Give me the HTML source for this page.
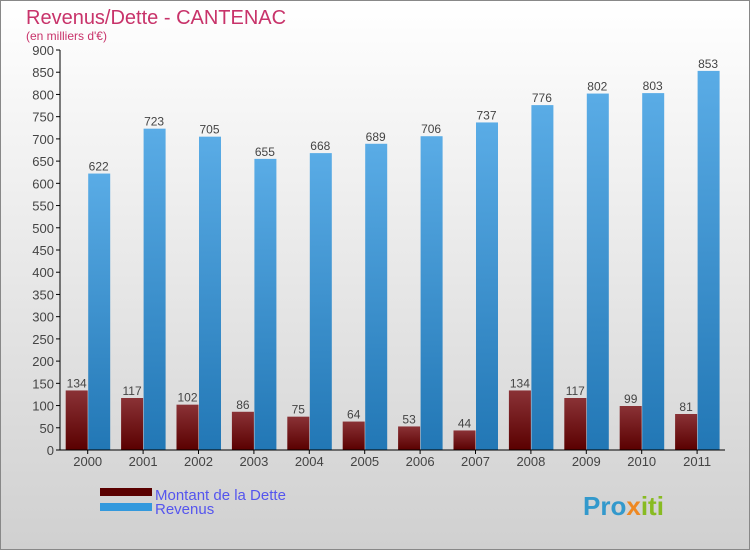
<!DOCTYPE html>
<html><head><meta charset="utf-8"><style>
body{margin:0}
svg{display:block;font-family:"Liberation Sans",sans-serif}
</style></head><body>
<svg id="c" width="750" height="550" xmlns="http://www.w3.org/2000/svg">
<defs>
<linearGradient id="bg" x1="0" y1="0" x2="0" y2="1"><stop offset="0" stop-color="#ffffff"/><stop offset="1" stop-color="#d0d0d0"/></linearGradient>
<linearGradient id="gd" x1="0" y1="0" x2="0" y2="1"><stop offset="0" stop-color="#8a3236"/><stop offset="1" stop-color="#5a0000"/></linearGradient>
<linearGradient id="gr" x1="0" y1="0" x2="0" y2="1"><stop offset="0" stop-color="#5aace6"/><stop offset="1" stop-color="#2277b5"/></linearGradient>
</defs>
<rect x="0.5" y="0.5" width="749" height="549" fill="url(#bg)" stroke="#888"/>
<text x="26" y="24" font-size="20" fill="#c8336a">Revenus/Dette - CANTENAC</text>
<text x="26" y="40" font-size="12" fill="#c8336a">(en milliers d'€)</text>
<g id="plot"></g>
<rect x="100" y="488" width="52" height="8" fill="#5a0000"/>
<rect x="100" y="503" width="52" height="8" fill="#3399dd"/>
<text x="155" y="500" font-size="15" fill="#5555ee">Montant de la Dette</text>
<text x="155" y="514" font-size="15" fill="#5555ee">Revenus</text>
<text x="583" y="515" font-size="26" font-weight="bold" fill="#3399cc">Pro<tspan fill="#ee8822">x</tspan><tspan fill="#88bb22">iti</tspan></text>
</svg>
<script>
const years=["2000","2001","2002","2003","2004","2005","2006","2007","2008","2009","2010","2011"];
const dette=[134,117,102,86,75,64,53,44,134,117,99,81];
const revenus=[622,723,705,655,668,689,706,737,776,802,803,853];
const yTicks=[0,50,100,150,200,250,300,350,400,450,500,550,600,650,700,750,800,850,900];
const NS="http://www.w3.org/2000/svg";
const g=document.getElementById("plot");
const x0=60,cw=55.4,yb=450,yt=50,ymax=900;
const y=v=>yb-(v/ymax)*(yb-yt);
const cx=i=>x0+cw*i+cw/2;
function mk(t,a,txt){const e=document.createElementNS(NS,t);for(const k in a)e.setAttribute(k,a[k]);if(txt!==undefined)e.textContent=txt;g.appendChild(e);return e;}
yTicks.forEach(v=>{
 const l=mk("line",{x1:56,x2:60,y1:y(v),y2:y(v),stroke:"#000"});
 
 
 const t=mk("text",{x:54,y:y(v)+5,"font-size":13,fill:"#444","text-anchor":"end"},v);
 
 
});
years.forEach((yr,i)=>{
 const c=cx(i);
 const b1=mk("rect",{x:c-22,y:y(dette[i]),width:22,height:yb-y(dette[i]),fill:"url(#gd)"});
 
 
 const b2=mk("rect",{x:c+0.5,y:y(revenus[i]),width:22,height:yb-y(revenus[i]),fill:"url(#gr)"});
 
 
 const t1=mk("text",{x:c-11,y:y(dette[i])-3,"font-size":12,fill:"#444","text-anchor":"middle"},dette[i]);
 
 
 const t2=mk("text",{x:c+11,y:y(revenus[i])-3,"font-size":12,fill:"#444","text-anchor":"middle"},revenus[i]);
 
 
 const tk=mk("line",{x1:c,x2:c,y1:yb,y2:yb+4,stroke:"#000"});
 
 
 const xl=mk("text",{x:c,y:466,"font-size":13,fill:"#444","text-anchor":"middle"},yr);
 
 
});
const ax=mk("line",{x1:60,x2:60,y1:yt,y2:yb,stroke:"#000"});


const bx=mk("line",{x1:60,x2:725,y1:yb,y2:yb,stroke:"#000"});


</script>
</body></html>
